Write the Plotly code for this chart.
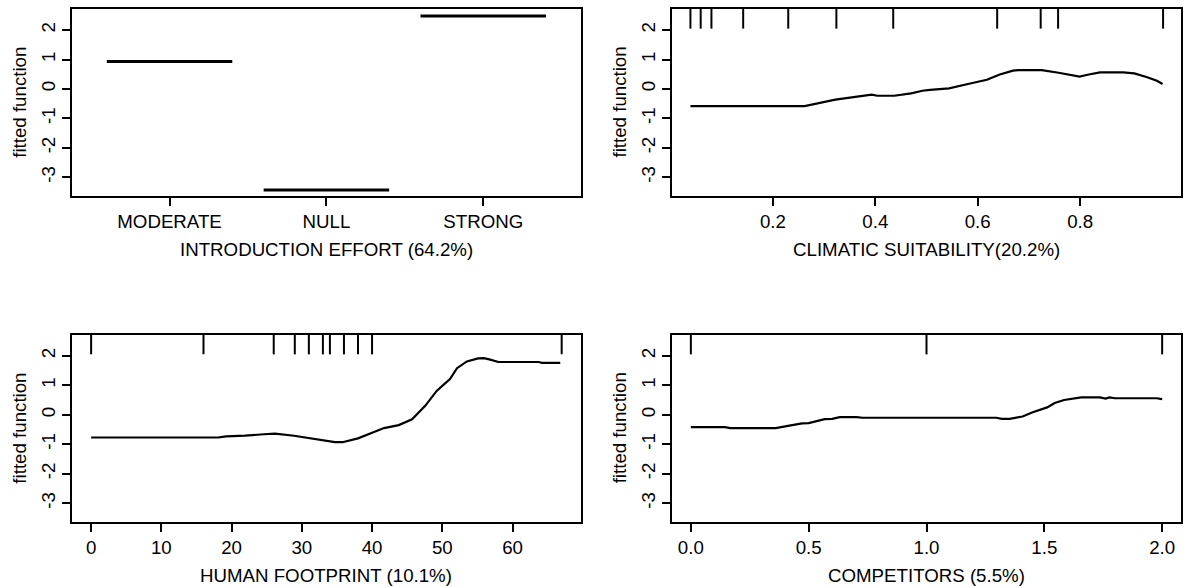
import plotly.graph_objects as go

# ---------------- data ----------------
effort_categories = ["MODERATE", "NULL", "STRONG"]
effort_values = [0.93, -3.43, 2.48]

climate_x = [0.039, 0.262, 0.322, 0.356, 0.393, 0.404, 0.437, 0.470, 0.492, 0.507,
             0.544, 0.581, 0.618, 0.643, 0.669, 0.680, 0.725, 0.758, 0.784, 0.799,
             0.817, 0.839, 0.884, 0.906, 0.931, 0.950, 0.961]
climate_y = [-0.58, -0.58, -0.36, -0.27, -0.19, -0.23, -0.23, -0.15, -0.06, -0.03,
             0.02, 0.17, 0.31, 0.49, 0.62, 0.64, 0.64, 0.55, 0.46, 0.42,
             0.49, 0.56, 0.56, 0.53, 0.40, 0.28, 0.17]
climate_rug = [0.039, 0.059, 0.080, 0.142, 0.230, 0.324, 0.435, 0.638, 0.723, 0.757, 0.962]

human_x = [0, 18.1, 19.2, 21.9, 24.6, 26.2, 28.9, 30.5, 33.1, 34.7, 35.8, 38.0,
           40.1, 41.7, 43.8, 45.7, 47.6, 49.2, 50.0, 51.1, 52.1, 53.5, 55.1,
           55.9, 56.7, 58.0, 63.7, 64.2, 66.8]
human_y = [-0.77, -0.77, -0.73, -0.71, -0.66, -0.64, -0.71, -0.77, -0.88, -0.93,
           -0.93, -0.80, -0.60, -0.45, -0.35, -0.15, 0.31, 0.81, 0.98, 1.21,
           1.58, 1.81, 1.91, 1.92, 1.88, 1.79, 1.79, 1.76, 1.76]
human_rug = [0, 16, 26, 29, 31, 33, 34, 36, 38, 40, 67]

comp_x = [0, 0.144, 0.168, 0.36, 0.424, 0.472, 0.5, 0.536, 0.568, 0.6, 0.632,
          0.704, 0.728, 1.296, 1.32, 1.352, 1.408, 1.448, 1.488, 1.512, 1.544,
          1.584, 1.656, 1.736, 1.76, 1.776, 1.8, 1.976, 2.0]
comp_y = [-0.42, -0.42, -0.45, -0.45, -0.36, -0.29, -0.28, -0.20, -0.15, -0.14,
          -0.08, -0.08, -0.10, -0.10, -0.14, -0.14, -0.06, 0.08, 0.18, 0.25,
          0.40, 0.50, 0.59, 0.59, 0.55, 0.59, 0.56, 0.56, 0.53]
comp_rug = [0, 1, 2]

y_ticks = [-3, -2, -1, 0, 1, 2]
y_ticktext = [str(v) for v in y_ticks]
Y_RANGE = [-3.635, 2.715]

x_titles = ["INTRODUCTION EFFORT (64.2%)", "CLIMATIC SUITABILITY(20.2%)",
            "HUMAN FOOTPRINT (10.1%)", "COMPETITORS (5.5%)"]
y_title = "fitted function"

FONT = "Liberation Sans, Arial, Helvetica, sans-serif"
FS = 18.7
W, H = 1184, 587
LINE = dict(color="black", width=2.2)

fig = go.Figure()

# Panel 1: categorical levels
for i, (cat, val) in enumerate(zip(effort_categories, effort_values)):
    pos = i + 1
    fig.add_trace(go.Scatter(x=[pos - 0.4, pos + 0.4], y=[val, val], mode="lines",
                             line=dict(color="black", width=3), xaxis="x", yaxis="y",
                             showlegend=False, hoverinfo="skip"))

fig.add_trace(go.Scatter(x=climate_x, y=climate_y, mode="lines", line=LINE,
                         xaxis="x2", yaxis="y2", showlegend=False))
fig.add_trace(go.Scatter(x=human_x, y=human_y, mode="lines", line=LINE,
                         xaxis="x3", yaxis="y3", showlegend=False))
fig.add_trace(go.Scatter(x=comp_x, y=comp_y, mode="lines", line=LINE,
                         xaxis="x4", yaxis="y4", showlegend=False))

# rugs along the top edge
shapes = []
for axn, rug in (("2", climate_rug), ("3", human_rug), ("4", comp_rug)):
    for v in rug:
        shapes.append(dict(type="line", xref="x" + axn, yref="y" + axn + " domain",
                           x0=v, x1=v, y0=1, y1=0.895,
                           line=dict(color="black", width=2)))

# pixel geometry of the four panels (left, right, top, bottom)
px_l = (72.3, 580.5)
px_r = (672.0, 1181.0)
px_t = (9.0, 196.0)
px_b = (334.7, 522.0)

def xd(p):
    return [p[0] / W, p[1] / W]

def yd(p):
    return [(H - p[1]) / H, (H - p[0]) / H]

tf = dict(family=FONT, size=FS, color="black")

def xaxis(p, anchor, rng, **kw):
    d = dict(domain=xd(p), anchor=anchor, range=rng, showline=True, mirror=True,
             linecolor="black", linewidth=2, ticks="outside", ticklen=8, tickwidth=2,
             tickcolor="black", showgrid=False, zeroline=False, automargin=False,
             tickfont=tf)
    d.update(kw)
    return d

def yaxis(p, anchor):
    return dict(domain=yd(p), anchor=anchor, range=Y_RANGE, showline=True, mirror=True,
                linecolor="black", linewidth=2, ticks="outside", ticklen=8, tickwidth=2,
                tickcolor="black", showgrid=False, zeroline=False, automargin=False,
                tickvals=y_ticks, ticktext=y_ticktext, tickangle=-90, tickfont=tf)

annotations = []
panels = [(px_l, px_t), (px_r, px_t), (px_l, px_b), (px_r, px_b)]
for (pxx, pyy), xt in zip(panels, x_titles):
    cx = (pxx[0] + pxx[1]) / 2
    annotations.append(dict(text=xt, x=cx / W, y=(H - (pyy[1] + 53)) / H,
                            xref="paper", yref="paper", showarrow=False,
                            xanchor="center", yanchor="middle", font=tf))
    cy = (pyy[0] + pyy[1]) / 2
    annotations.append(dict(text=y_title, x=(pxx[0] - 53) / W, y=(H - cy) / H,
                            xref="paper", yref="paper", showarrow=False, textangle=-90,
                            xanchor="center", yanchor="middle", font=tf))

fig.update_layout(
    width=W, height=H,
    margin=dict(l=0, r=0, t=0, b=0),
    paper_bgcolor="white", plot_bgcolor="white",
    shapes=shapes, annotations=annotations,
    xaxis=xaxis(px_l, "y", [0.38, 3.62], tickvals=[1, 2, 3], ticktext=effort_categories),
    yaxis=yaxis(px_t, "x"),
    xaxis2=xaxis(px_r, "y2", [0.003, 0.997], tickvals=[0.2, 0.4, 0.6, 0.8]),
    yaxis2=yaxis(px_t, "x2"),
    xaxis3=xaxis(px_l, "y3", [-2.68, 69.68], tickvals=[0, 10, 20, 30, 40, 50, 60]),
    yaxis3=yaxis(px_b, "x3"),
    xaxis4=xaxis(px_r, "y4", [-0.08, 2.08], tickvals=[0, 0.5, 1.0, 1.5, 2.0],
                 tickformat=".1f"),
    yaxis4=yaxis(px_b, "x4"),
)

fig.write_html("out.html", config={"displayModeBar": False},
               post_script="document.body.style.margin='0';document.body.style.overflow='hidden';")
